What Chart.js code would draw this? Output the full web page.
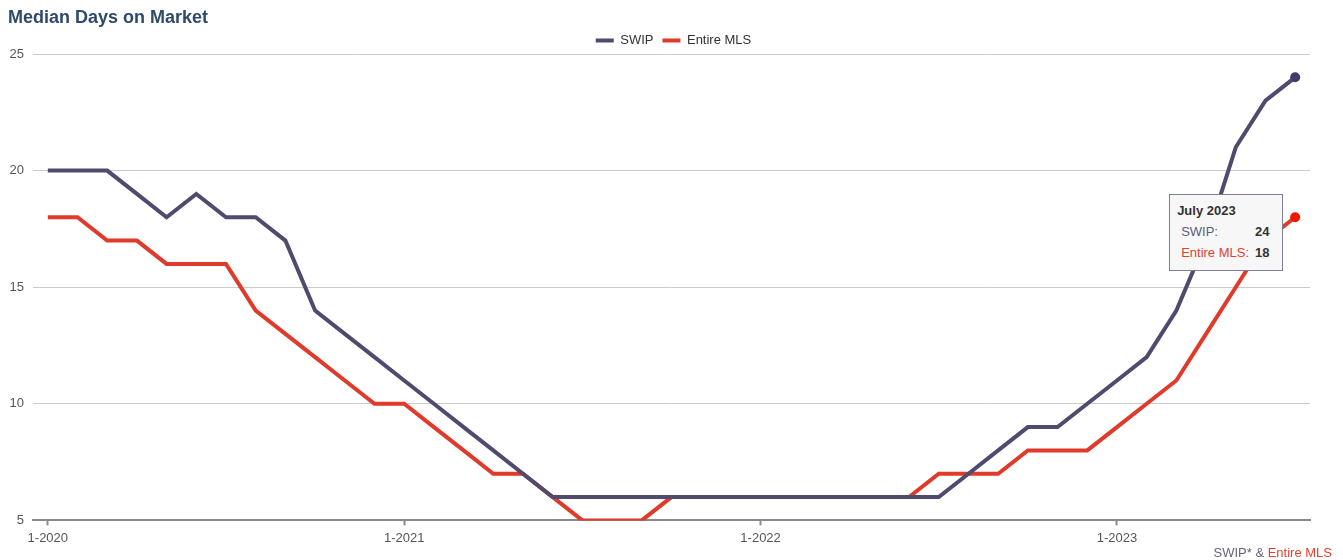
<!DOCTYPE html>
<html>
<head>
<meta charset="utf-8">
<title>Median Days on Market</title>
<script src="https://cdn.jsdelivr.net/npm/chart.js@4.4.1/dist/chart.umd.min.js"></script>
<style>
  html, body { margin: 0; padding: 0; background: #ffffff; }
  #wrap { position: relative; width: 1343px; height: 560px; font-family: "Liberation Sans", Arial, sans-serif; }
  #chart { position: absolute; left: 0; top: 0; }
  #title { position: absolute; left: 8px; top: 7px; font-size: 18px; line-height: 20px; font-weight: bold; color: #2d4a6b; white-space: nowrap; }
  #note { position: absolute; right: 11px; top: 545px; font-size: 13px; line-height: 15px; color: #67657f; white-space: nowrap; }
  #note .mls { color: #e3412f; }
  #tip { position: absolute; box-sizing: border-box; background: #f7f7f7; border: 1px solid #7f7d98;
         padding: 5px 12px 7px 7px; font-size: 13px; line-height: 21px; color: #333; white-space: nowrap; display: none; }
  #tip .ttl { font-weight: bold; }
  #tip table { border-collapse: collapse; margin-left: 4px; }
  #tip td { padding: 0; line-height: 21px; }
  #tip td.v { font-weight: bold; text-align: right; padding-left: 6px; }
</style>
</head>
<body>
<div id="wrap">
  <canvas id="chart" width="1343" height="560"></canvas>
  <div id="title">Median Days on Market</div>
  <div id="note">SWIP* &amp; <span class="mls">Entire MLS</span></div>
  <div id="tip"></div>
</div>
<script>
// Monthly series, January 2020 through July 2023
const startYear = 2020;
const monthNames = ['January','February','March','April','May','June','July','August','September','October','November','December'];

const swipDays = [20, 20, 20, 19, 18, 19, 18, 18, 17, 14, 13, 12,
                  11, 10, 9, 8, 7, 6, 6, 6, 6, 6, 6, 6,
                  6, 6, 6, 6, 6, 6, 6, 7, 8, 9, 9, 10,
                  11, 12, 14, 17, 21, 23, 24];
const mlsDays  = [18, 18, 17, 17, 16, 16, 16, 14, 13, 12, 11, 10,
                  10, 9, 8, 7, 7, 6, 5, 5, 5, 6, 6, 6,
                  6, 6, 6, 6, 6, 6, 7, 7, 7, 8, 8, 8,
                  9, 10, 11, 13, 15, 17, 18];

const yTicks = [5, 10, 15, 20, 25];

const swipColor = '#4e4b6f';
const mlsColor  = '#e03b2a';
const fontFamily = '"Liberation Sans", Arial, sans-serif';

// "M-YYYY" category labels
const monthLabels = swipDays.map((_, i) => `${(i % 12) + 1}-${startYear + Math.floor(i / 12)}`);
const lastIndex = monthLabels.length - 1;

function longMonth(label) {
  const [m, y] = label.split('-');
  return `${monthNames[Number(m) - 1]} ${y}`;
}

// HTML tooltip so the values sit in their own right-aligned column
function externalTooltip(context) {
  const { tooltip } = context;
  const el = document.getElementById('tip');
  if (!tooltip || tooltip.opacity === 0 || !tooltip.dataPoints || !tooltip.dataPoints.length) {
    el.style.display = 'none';
    return;
  }
  const pts = tooltip.dataPoints;
  const title = longMonth(pts[0].label);
  let rows = '';
  pts.forEach(p => {
    const c = p.dataset.labelColor;
    rows += `<tr><td style="color:${c}">${p.dataset.label}:</td><td class="v">${p.formattedValue}</td></tr>`;
  });
  el.innerHTML = `<div class="ttl">${title}</div><table>${rows}</table>`;
  el.style.display = 'block';
  const anchorX = Math.max(...pts.map(p => p.element.x));
  const anchorY = Math.max(...pts.map(p => p.element.y));
  el.style.left = (anchorX - 13 - el.offsetWidth) + 'px';
  el.style.top = (anchorY - 23) + 'px';
}

// Centre the legend on the full canvas and nudge it down toward the plot
const legendPlace = {
  id: 'legendPlace',
  afterLayout(chart) {
    const lg = chart.legend;
    if (!lg) return;
    const shift = chart.width / 2 + 2 - (lg.left + lg.right) / 2;
    lg.left += shift;
    lg.right += shift;
    lg.top += 3;
    lg.bottom += 3;
  }
};

const lastOnly = (r) => (ctx) => (ctx.dataIndex === lastIndex ? r : 0);

const chart = new Chart(document.getElementById('chart'), {
  type: 'line',
  data: {
    labels: monthLabels,
    datasets: [
      {
        label: 'SWIP',
        data: swipDays,
        borderColor: swipColor,
        backgroundColor: swipColor,
        labelColor: '#5e5c7c',
        borderWidth: 4,
        tension: 0,
        pointRadius: lastOnly(5),
        pointHoverRadius: lastOnly(5),
        pointBorderWidth: 0,
        pointHoverBorderWidth: 0,
        pointBackgroundColor: swipColor
      },
      {
        label: 'Entire MLS',
        data: mlsDays,
        borderColor: mlsColor,
        backgroundColor: mlsColor,
        labelColor: '#e3412f',
        borderWidth: 4,
        tension: 0,
        pointRadius: lastOnly(5),
        pointHoverRadius: lastOnly(5),
        pointBorderWidth: 0,
        pointHoverBorderWidth: 0,
        pointBackgroundColor: mlsColor
      }
    ]
  },
  plugins: [legendPlace],
  options: {
    responsive: false,
    animation: false,
    events: [],
    layout: { padding: { left: 0.5, right: 33, top: 22, bottom: 9 } },
    interaction: { mode: 'index', intersect: false },
    scales: {
      x: {
        type: 'category',
        offset: true,
        grid: {
          offset: false,
          drawOnChartArea: false,
          drawTicks: true,
          tickLength: 5,
          tickColor: '#8a8a8a',
          tickWidth: 2
        },
        border: { display: true, color: '#8a8a8a', width: 2 },
        afterBuildTicks: (axis) => {
          axis.ticks = axis.ticks.filter(t => t.value % 12 === 0);
        },
        afterFit: (axis) => {
          axis.paddingLeft = 0;
          axis.paddingRight = 0;
        },
        ticks: {
          autoSkip: false,
          maxRotation: 0,
          padding: 5,
          color: '#555',
          font: { family: fontFamily, size: 13 },
          callback: function (value) { return this.getLabelForValue(value); }
        }
      },
      y: {
        min: yTicks[0],
        max: yTicks[yTicks.length - 1],
        afterBuildTicks: (axis) => {
          axis.ticks = yTicks.map(v => ({ value: v }));
        },
        grid: { color: '#cbcbcb', lineWidth: 1, drawTicks: false },
        border: { display: false },
        ticks: {
          padding: 9,
          color: '#555',
          font: { family: fontFamily, size: 13 }
        }
      }
    },
    plugins: {
      title: { display: false },
      legend: {
        display: true,
        position: 'top',
        align: 'center',
        labels: {
          boxWidth: 18,
          boxHeight: 4,
          padding: 9,
          color: '#333',
          font: { family: fontFamily, size: 13 },
          generateLabels: (chart) => chart.data.datasets.map((ds, i) => ({
            text: ds.label,
            fillStyle: ds.borderColor,
            strokeStyle: ds.borderColor,
            lineWidth: 0,
            hidden: false,
            datasetIndex: i,
            fontColor: '#333'
          }))
        }
      },
      tooltip: {
        enabled: false,
        mode: 'index',
        intersect: false,
        external: externalTooltip
      }
    }
  }
});

// Show the latest month's values
const active = [{ datasetIndex: 0, index: lastIndex }, { datasetIndex: 1, index: lastIndex }];
chart.setActiveElements(active);
chart.tooltip.setActiveElements(active, { x: 0, y: 0 });
chart.update();
</script>
</body>
</html>
